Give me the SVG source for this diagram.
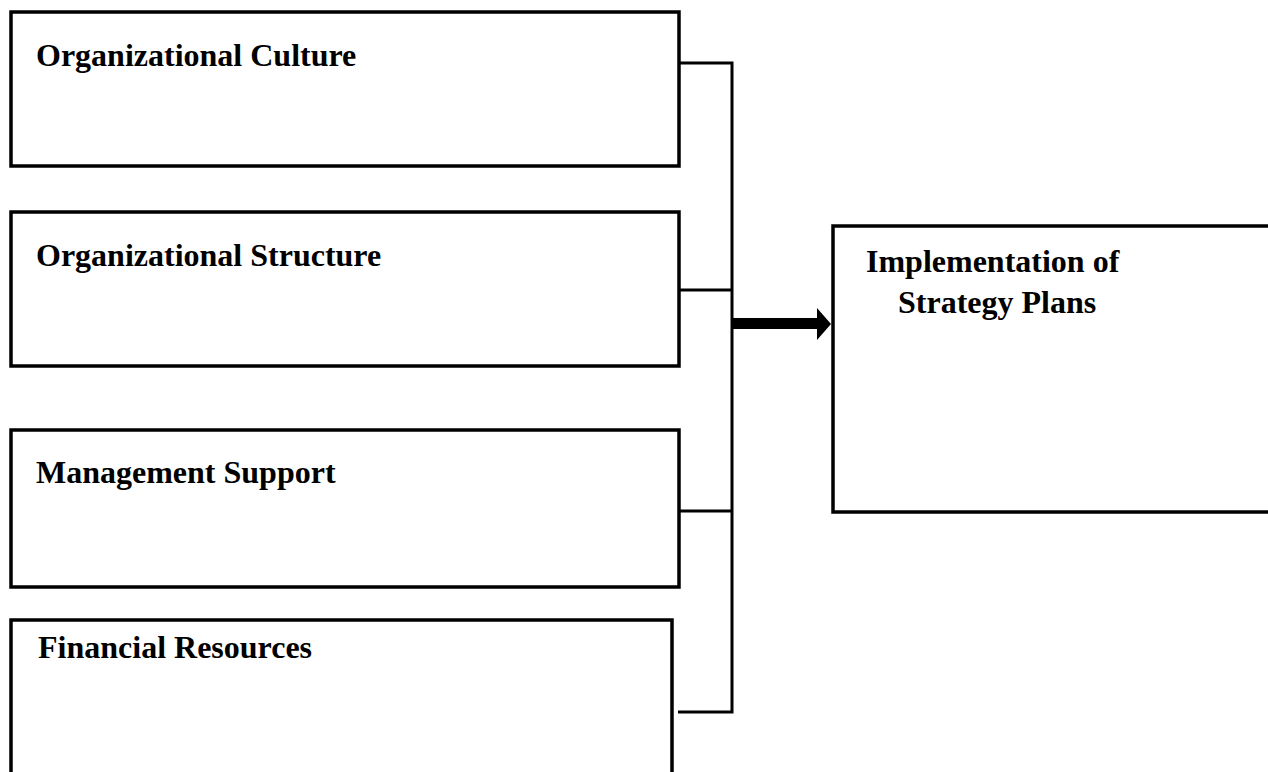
<svg xmlns="http://www.w3.org/2000/svg" width="1268" height="772" viewBox="0 0 1268 772">
<style>
.box{fill:#fff;stroke:#000;stroke-width:3.5}
.lbl{font-family:"Liberation Serif","Times New Roman",serif;font-weight:bold;font-size:32px;fill:#000}
.con{fill:none;stroke:#000;stroke-width:3}
</style>
<rect width="1268" height="772" fill="#fff"/>
<g id="culture">
<rect class="box" x="11" y="12" width="668" height="154"/>
<text class="lbl" x="36" y="66">Organizational Culture</text>
</g>
<g id="structure">
<rect class="box" x="11" y="212" width="668" height="154"/>
<text class="lbl" x="36" y="266">Organizational Structure</text>
</g>
<g id="management">
<rect class="box" x="11" y="430" width="668" height="157"/>
<text class="lbl" x="36" y="483">Management Support</text>
</g>
<g id="financial">
<rect class="box" x="11" y="620" width="661" height="170"/>
<text class="lbl" x="38" y="658">Financial Resources</text>
</g>
<g id="implementation">
<rect class="box" x="833" y="226" width="460" height="286"/>
<text class="lbl" x="866" y="272">Implementation of</text>
<text class="lbl" x="898" y="313">Strategy Plans</text>
</g>
<g id="connectors">
<path class="con" d="M679 63 H732 V712 H678"/>
<path class="con" d="M679 290 H732"/>
<path class="con" d="M679 511 H732"/>
<rect x="732" y="318" width="86" height="11" fill="#000"/>
<polygon points="817,308 831,324 817,340" fill="#000"/>
</g>
</svg>
